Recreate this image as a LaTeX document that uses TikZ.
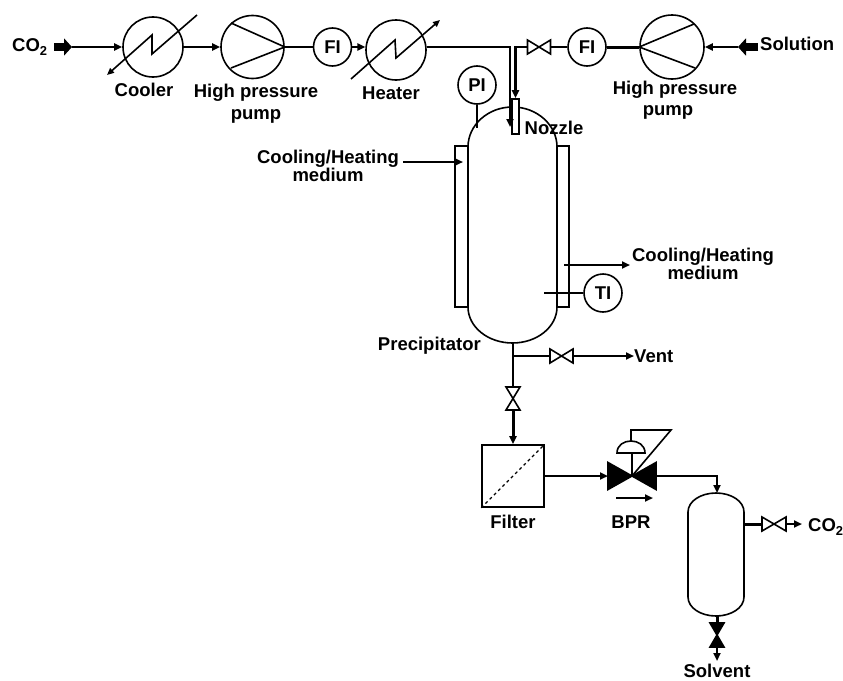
\documentclass[tikz,border=0pt]{standalone}
\usepackage{fontspec}
\setmainfont{Liberation Sans}
\usetikzlibrary{arrows.meta}
\tikzset{
    lbl/.style={font=\bfseries\fontsize{18.5}{18}\selectfont, align=center, inner sep=0pt},
    instr/.style={draw, circle, line width=1.6pt, minimum size=38pt, inner sep=0pt, font=\bfseries\fontsize{18.5}{18}\selectfont},
    unit/.style={draw, circle, line width=1.6pt, minimum size=60pt, inner sep=0pt},
    valvebox/.style={minimum width=23pt, minimum height=14pt, inner sep=0pt, outer sep=0pt},
    pipe/.style={line width=2.4pt},
    flow/.style={line width=2.4pt, -{Triangle[length=8pt,width=7pt]}},
    fat/.style={line width=8pt, -{Triangle[length=8pt,width=17pt]}},
    wall/.style={line width=1.6pt}
}
\newcommand{\drawvalve}[2]{\draw[line width=1.6pt, fill=#2] (#1.north west) -- (#1.south east) -- (#1.north east) -- (#1.south west) -- cycle;}
\begin{document}
\begin{tikzpicture}[x=1pt,y=-1pt]
    \useasboundingbox (0,0) rectangle (843,680);

    % top line, carbon dioxide side
    \node[lbl, anchor=west] (co2in) at (12,47) {CO\textsubscript{2}};
    \coordinate (co2tail) at (54,47);
    \coordinate (co2tip) at (72,47);
    \node[unit] (cooler) at (153,47) {};
    \node[unit, minimum size=63pt] (pumpa) at (252.5,47) {};
    \node[instr] (fia) at (332.5,47) {FI};
    \node[unit] (heater) at (396,50) {};
    \node[lbl] (coolerlbl) at (144,90) {Cooler};
    \node[lbl] (pumpalbl) at (256,104) {High pressure\\[4pt]pump};
    \node[lbl] (heaterlbl) at (391,93) {Heater};

    \draw[fat] (co2tail) -- (co2tip);
    \draw[flow] (co2tip) -- (cooler.west);
    \draw[flow] (cooler.east) -- (pumpa.west);
    \draw[pipe] (pumpa.east) -- (fia.west);
    \draw[flow] (fia.east) -- (fia.east -| heater.174);

    \draw[wall, -{Triangle[length=7pt,width=6pt]}] (197,15) -- (152,54) -- (152,35) -- (107,75);
    \draw[wall] (231,23) -- (pumpa.east) -- (231,68);
    \draw[wall, -{Triangle[length=7pt,width=6pt]}] (351,79) -- (395,40) -- (396,58) -- (440,20);

    % top line, solution side
    \node[lbl, anchor=west] (solution) at (760,44) {Solution};
    \coordinate (soltail) at (758,47);
    \coordinate (soltip) at (738,47);
    \node[unit, minimum size=64pt] (pumpb) at (672,47) {};
    \node[instr] (fib) at (587,47) {FI};
    \node[valvebox] (vfeed) at (539,47) {};
    \node[lbl] (pumpblbl) at (675,90) {High pressure};
    \node[lbl] (pumpblblb) at (668,112) {pump};

    \draw[fat] (soltail) -- (soltip);
    \draw[flow] (soltip) -- (pumpb.east);
    \draw[line width=3pt] (pumpb.west) -- (fib.east);
    \draw[pipe] (fib.west) -- (vfeed.east);
    \drawvalve{vfeed}{white}
    \draw[wall] (694,24) -- (pumpb.west) -- (695,68);

    % precipitator with jacket
    \node[draw, wall, minimum width=13pt, minimum height=161pt, inner sep=0pt] (jacketl) at (461.5,226.5) {};
    \node[draw, wall, minimum width=12pt, minimum height=161pt, inner sep=0pt] (jacketr) at (563,226.5) {};
    \draw[wall, fill=white] (468,147) .. controls (468,125) and (488,107) .. (512.5,107)
        .. controls (537,107) and (557,125) .. (557,147) -- (557,307)
        .. controls (557,327) and (537,343) .. (512.5,343)
        .. controls (488,343) and (468,327) .. (468,307) -- cycle;
    \coordinate (precbottom) at (513,343);
    \coordinate (prectap) at (477,128);
    \coordinate (precte) at (544,293);

    \node[draw, wall, fill=white, minimum width=7pt, minimum height=35pt, inner sep=0pt] (nozzle) at (515.5,116.5) {};
    \node[lbl] (nozzlelbl) at (554,128) {Nozzle};
    \coordinate (nozzlein) at (510,127);
    \draw[pipe, -{Triangle[length=8pt,width=7pt]}] (fia.east -| heater.6) -- (nozzlein |- fia.east) -- (nozzlein);
    \draw[pipe, -{Triangle[length=8pt,width=7pt]}] (vfeed.west) -- (nozzle.north |- vfeed.west) -- (nozzle.north);

    \node[instr] (pi) at (477,85) {PI};
    \node[instr] (ti) at (603,293) {TI};
    \draw[wall] (pi.south) -- (prectap);
    \draw[wall] (ti.west) -- (precte);

    \node[lbl] (coolin) at (328,166) {Cooling/Heating\\medium};
    \node[lbl] (coolout) at (703,263.5) {Cooling/Heating\\medium};
    \node[lbl, anchor=east] (preclbl) at (481,346) {Precipitator};
    \coordinate (jacketstart) at (403,162);
    \coordinate (jacketin) at (463,162);
    \coordinate (jacketout) at (564,265);
    \coordinate (jacketend) at (630,265);
    \draw[flow] (jacketstart) -- (jacketin);
    \draw[flow] (jacketout) -- (jacketend);

    % outlet, vent and filter
    \node[valvebox] (vvent) at (561.5,356) {};
    \node[valvebox, rotate=90] (vout) at (513,398.5) {};
    \node[lbl, anchor=west] (vent) at (634,356) {Vent};
    \node[draw, wall, minimum size=62pt, inner sep=0pt] (filter) at (513,476) {};
    \node[lbl] (filterlbl) at (513,522) {Filter};
    \draw[pipe] (precbottom) -- (vout.east);
    \draw[pipe] (precbottom |- vvent.west) -- (vvent.west);
    \draw[flow] (vvent.east) -- (vent.west);
    \draw[flow, line width=3pt] (vout.west) -- (filter.north);
    \drawvalve{vvent}{white}
    \drawvalve{vout}{white}
    \draw[line width=1.2pt, dashed] (filter.south west) -- (filter.north east);

    % back pressure regulator
    \node[valvebox, minimum width=48pt, minimum height=27pt] (bpr) at (632,476) {};
    \node[lbl] (bprlbl) at (631,522) {BPR};
    \draw[flow] (filter.east |- bpr.west) -- (bpr.west);
    \drawvalve{bpr}{black}
    \draw[wall] (bpr.center) -- (632,453);
    \draw[wall, fill=white] (617,453) .. controls (617,445) and (624,441) .. (631,441)
        .. controls (638,441) and (645,445) .. (645,453) -- cycle;
    \draw[wall] (631,441) -- (631,430) -- (671,430) -- (bpr.center);
    \coordinate (bprarrowa) at (616,498);
    \coordinate (bprarrowb) at (653,498);
    \draw[flow] (bprarrowa) -- (bprarrowb);

    % separator
    \draw[wall] (688,512) .. controls (688,501) and (701,493) .. (716,493)
        .. controls (731,493) and (744,501) .. (744,512) -- (744,597)
        .. controls (744,608) and (731,616) .. (716,616)
        .. controls (701,616) and (688,608) .. (688,597) -- cycle;
    \coordinate (septop) at (717,493);
    \coordinate (sepbottom) at (717,616);
    \coordinate (sepside) at (744,524);
    \coordinate (gasend) at (802,524);
    \node[valvebox, minimum width=24pt] (vgas) at (774,524) {};
    \node[valvebox, rotate=90, minimum width=24pt] (vliq) at (717,635) {};
    \node[lbl, anchor=west] (co2out) at (808,527) {CO\textsubscript{2}};
    \node[lbl] (solvent) at (717,670.5) {Solvent};
    \coordinate (solventtop) at (717,661);

    \draw[pipe, -{Triangle[length=8pt,width=7pt]}] (bpr.east) -- (septop |- bpr.east) -- (septop);
    \draw[line width=3pt] (sepside) -- (vgas.west);
    \draw[flow] (vgas.east) -- (gasend);
    \draw[line width=3pt] (sepbottom) -- (vliq.east);
    \draw[flow] (vliq.west) -- (solventtop);
    \drawvalve{vgas}{white}
    \drawvalve{vliq}{black}
\end{tikzpicture}
\end{document}
